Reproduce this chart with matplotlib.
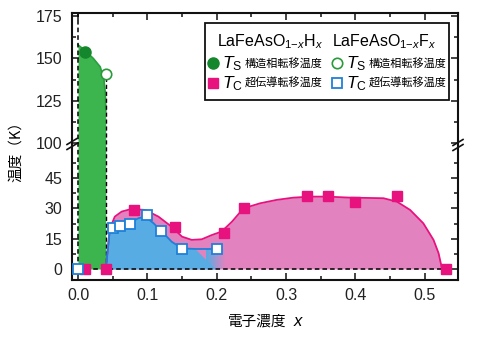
import numpy as np
import matplotlib
matplotlib.use("Agg")
import matplotlib.pyplot as plt
from matplotlib.lines import Line2D
from matplotlib.patches import Rectangle

plt.rcParams['font.family'] = ['Liberation Sans', 'Noto Sans CJK JP', 'DejaVu Sans']
plt.rcParams['mathtext.fontset'] = 'custom'
plt.rcParams['mathtext.rm'] = 'Liberation Sans'
plt.rcParams['mathtext.it'] = 'Liberation Sans:italic'

# ---- data ----
Ts_H_x = [0.01]
Ts_H = [154]
Ts_F_x = [0.04]
Ts_F = [141]
Tc_H_x = [0.01, 0.04, 0.08, 0.14, 0.21, 0.24, 0.33, 0.36, 0.40, 0.46, 0.53]
Tc_H = [0, 0, 29, 21, 18, 30, 36, 36, 33, 36, 0]
Tc_F_x = [0.0, 0.05, 0.06, 0.075, 0.10, 0.12, 0.15, 0.20]
Tc_F = [0, 20.5, 21.5, 22.5, 26.5, 19, 10, 10]

# guide-to-the-eye curves
Ts_curve_x = [0.0, 0.009, 0.022, 0.032, 0.0375, 0.0394, 0.040]
Ts_curve = [158, 155, 150, 145, 137, 129, 119]
H_curve_x = [0.040, 0.043, 0.046, 0.053, 0.063, 0.077, 0.097, 0.116, 0.135, 0.150, 0.164,
             0.1785, 0.193, 0.207, 0.222, 0.2386, 0.2626, 0.2867, 0.3107, 0.335, 0.359,
             0.3925, 0.4406, 0.46, 0.479, 0.498, 0.5127, 0.52, 0.5248]
H_curve = [0, 10, 20, 25.9, 28.4, 29.7, 29.2, 25.9, 20.9, 16, 14.4, 14.7, 16.8, 18.5, 23.4,
           30, 32.5, 34.2, 35.3, 35.8, 35.8, 35.3, 35, 33.3, 29.2, 22.6, 14.4, 7.8, 0.3]
F_curve_x = [0.040, 0.043, 0.046, 0.058, 0.0726, 0.087, 0.097, 0.109, 0.121, 0.135, 0.15,
             0.169, 0.198]
F_curve = [0, 10, 20.3, 21.8, 22.6, 25.1, 25.9, 22.6, 18.5, 13.5, 10.2, 9.9, 9.9]

yticks_major = [0, 15, 30, 45, 100, 125, 150, 175]
yticks_minor = [7.5, 22.5, 37.5, 52.5, 112.5, 137.5, 162.5]
xticks_major = [0.0, 0.1, 0.2, 0.3, 0.4, 0.5]
xtick_labels = ["0.0", "0.1", "0.2", "0.3", "0.4", "0.5"]

# colours
GREEN_FILL = '#3db54e'
GREEN_DARK = '#14862b'
PINK_FILL = '#e283c0'
PINK = '#e8127f'
BLUE_FILL = '#56ace3'
BLUE = '#1f80d8'

# ---- broken y scale ----
def fwd(y):
    y = np.asarray(y, float)
    return np.where(y <= 62, 2.022 * y,
                    np.where(y < 100, 125.364 + (y - 62) * (0.636 / 38),
                             126.0 + 1.693 * (y - 100)))

def inv(g):
    g = np.asarray(g, float)
    return np.where(g <= 125.364, g / 2.022,
                    np.where(g < 126.0, 62 + (g - 125.364) * 38 / 0.636,
                             100 + (g - 126.0) / 1.693))

W, H = 500, 338
fig = plt.figure(figsize=(W / 100, H / 100), dpi=100)
ax = fig.add_axes([72 / W, 1 - 280 / H, (458 - 72) / W, (280 - 13) / H])
ax.set_yscale('function', functions=(fwd, inv))
ax.set_xlim(-0.0087, 0.548)
ax.set_ylim(-5.44, 176.8)

# fills
ax.fill_between(Ts_curve_x, 0, Ts_curve, color=GREEN_FILL, lw=0, zorder=1)
ax.plot(Ts_curve_x, Ts_curve, color='#2a9f3e', lw=1.2, zorder=2)
ax.fill_between(H_curve_x, 0, H_curve, color=PINK_FILL, lw=0, zorder=1)
fx = np.array(F_curve_x)
fy = np.array(F_curve)
ax.fill_between(fx, 0, fy, where=fx <= 0.187, interpolate=True, color=BLUE_FILL, lw=0, zorder=1.5)
edges = np.linspace(0.185, 0.212, 14)
for i in range(len(edges) - 1):
    a = 1 - (i + 0.5) / (len(edges) - 1)
    ax.fill_between([edges[i], edges[i + 1]], 0, [9.9, 9.9], color=BLUE_FILL, alpha=a, lw=0, zorder=1.5)

# curves
ax.plot(H_curve_x, H_curve, color=PINK, lw=1.3, zorder=3)
ax.plot(F_curve_x, F_curve, color=BLUE, lw=1.3, zorder=3)

# dashed guides
dash = (0, (3, 2))
ax.plot([0, 0], [0, 176.8], color='k', lw=1.1, ls=dash, zorder=2.5)
ax.plot([0, 0.53], [0, 0], color='k', lw=1.1, ls=dash, zorder=2.5)
ax.plot([0.04, 0.04], [0, 138], color='k', lw=1.0, ls=dash, zorder=2.5)

# markers
ax.plot(Ts_H_x, Ts_H, 'o', ms=8, color=GREEN_DARK, zorder=5)
ax.plot(Ts_F_x, Ts_F, 'o', ms=7.5, mfc='white', mec='#2a9a3a', mew=1.2, zorder=5)
ax.plot(Tc_H_x, Tc_H, 's', ms=7.5, color=PINK, zorder=5)
ax.plot(Tc_F_x, Tc_F, 's', ms=7, mfc='white', mec=BLUE, mew=1.3, zorder=6, clip_on=False)

# ticks
ax.set_yticks(yticks_major)
ax.set_yticks(yticks_minor, minor=True)
ax.set_xticks(xticks_major)
ax.set_xticklabels(xtick_labels)
ax.set_xticks(np.arange(0.05, 0.55, 0.1), minor=True)
ax.tick_params(which='both', direction='in', top=True, right=True, width=1.2,
               labelsize=11.5, colors='#222222')
ax.tick_params(which='major', length=5)
ax.tick_params(which='minor', length=3)
ax.tick_params(axis='x', pad=6)
ax.tick_params(axis='y', pad=7)
for s in ax.spines.values():
    s.set_linewidth(1.5)
    s.set_color('#111111')

def P(x, y):
    return (x / W, 1 - y / H)

# break marks
for xb, yb in [(72, 144), (458, 145)]:
    for dy in (-2.5, 2.5):
        x0, y0 = P(xb - 5, yb + dy + 3)
        x1, y1 = P(xb + 5, yb + dy - 3)
        fig.add_artist(Line2D([x0, x1], [y0, y1], color='#111111', lw=1.2,
                              transform=fig.transFigure))

# axis labels
fig.text(*P(16, 148), '温度（K）', rotation=90, ha='center', va='center', fontsize=10.5,
         family=['Noto Sans CJK JP', 'Liberation Sans'])
fig.text(*P(257, 322), '電子濃度', ha='center', va='center', fontsize=10.5,
         family=['Noto Sans CJK JP', 'Liberation Sans'])
fig.text(*P(299, 322), '$\\mathit{x}$', ha='center', va='center', fontsize=12, fontweight='bold')

# legend
x0, y0 = P(205, 100)
x1, y1 = P(449, 23)
fig.add_artist(Rectangle((x0, y0), x1 - x0, y1 - y0, transform=fig.transFigure,
                         facecolor='white', edgecolor='#111111', lw=1.3, zorder=10))
fig.text(*P(270, 42), 'LaFeAsO$_{1\\mathrm{-}\\mathit{x}}$H$_{\\mathit{x}}$', ha='center', va='center',
         fontsize=11.5, zorder=11)
fig.text(*P(384, 42), 'LaFeAsO$_{1\\mathrm{-}\\mathit{x}}$F$_{\\mathit{x}}$', ha='center', va='center',
         fontsize=11.5, zorder=11)

def legmark(px, py, **kw):
    xx, yy = P(px, py)
    fig.add_artist(Line2D([xx], [yy], transform=fig.transFigure, zorder=11, **kw))

legmark(213, 63, marker='o', ms=8, color=GREEN_DARK, ls='none')
legmark(213, 83, marker='s', ms=7, color=PINK, ls='none')
legmark(337, 63, marker='o', ms=7.5, mfc='white', mec='#2a9a3a', mew=1.2, ls='none')
legmark(337, 83, marker='s', ms=7, mfc='white', mec=BLUE, mew=1.3, ls='none')

for bx, sub, jp, yy in [(222, 'S', '構造相転移温度', 64), (222, 'C', '超伝導転移温度', 84),
                        (346, 'S', '構造相転移温度', 64), (346, 'C', '超伝導転移温度', 84)]:
    fig.text(*P(bx, yy), '$\\mathit{T}_{\\mathrm{%s}}$' % sub, ha='left', va='center',
             fontsize=12.5, zorder=11)
    fig.text(*P(bx + 23, yy - 1), jp, ha='left', va='center', fontsize=8,
             family=['Noto Sans CJK JP', 'Liberation Sans'], zorder=11)

fig.savefig('out.png', dpi=100)
